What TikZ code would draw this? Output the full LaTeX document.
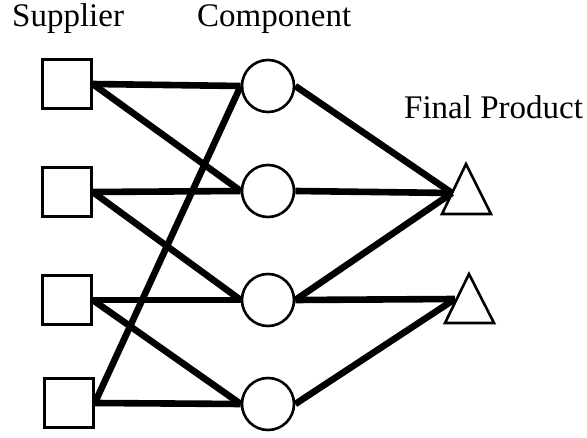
\documentclass[tikz,border=0pt]{standalone}
\usepackage{fontspec}
\setmainfont{Liberation Serif}
\begin{document}
\begin{tikzpicture}[x=1pt,y=-1pt,
  sup/.style={draw,line width=2.5pt,fill=white,minimum size=49pt,inner sep=0pt},
  comp/.style={draw,circle,line width=2.6pt,fill=white,minimum size=52pt,inner sep=0pt},
  tri/.style={draw,line width=2.6pt,fill=white,line join=miter},
  link/.style={line width=6.6pt,line cap=butt},
  lbl/.style={anchor=base west,inner sep=0pt,font=\fontsize{33}{40}\selectfont}]
\useasboundingbox (0,0) rectangle (587,438);
% labels
\node[lbl] (lsup) at (12,27) {Supplier};
\node[lbl] (lcomp) at (197,27) {Component};
\node[lbl] (lfin) at (404,119) {Final Product};
% suppliers
\node[sup] (S1) at (67,84) {};
\node[sup] (S2) at (67,192) {};
\node[sup] (S3) at (67,300) {};
\node[sup] (S4) at (69,403) {};
% components
\node[comp] (C1) at (268,86) {};
\node[comp] (C2) at (268,191) {};
\node[comp] (C3) at (268,300) {};
\node[comp] (C4) at (268,404) {};
% final products
\draw[tri] (442,214) -- (466,164) -- (491,214) -- cycle;
\draw[tri] (445,323) -- (469,274) -- (494,323) -- cycle;
\coordinate (T1) at (452,193);
\coordinate (T2) at (455,299);
% links
\draw[link] (S1.east) -- (C1.west);
\draw[link] (S1.east) -- (C2.west);
\draw[link] (S2.east) -- (C2.west);
\draw[link] (S2.east) -- (C3.west);
\draw[link] (S3.east) -- (C3.west);
\draw[link] (S3.east) -- (C4.west);
\draw[link] (S4.east) -- (C4.west);
\draw[link] (S4.east) -- (C1.west);
\draw[link] (C1.east) -- (T1);
\draw[link] (C2.east) -- (T1);
\draw[link] (C3.east) -- (T1);
\draw[link] (C3.east) -- (T2);
\draw[link] (C4.east) -- (T2);
\end{tikzpicture}
\end{document}
